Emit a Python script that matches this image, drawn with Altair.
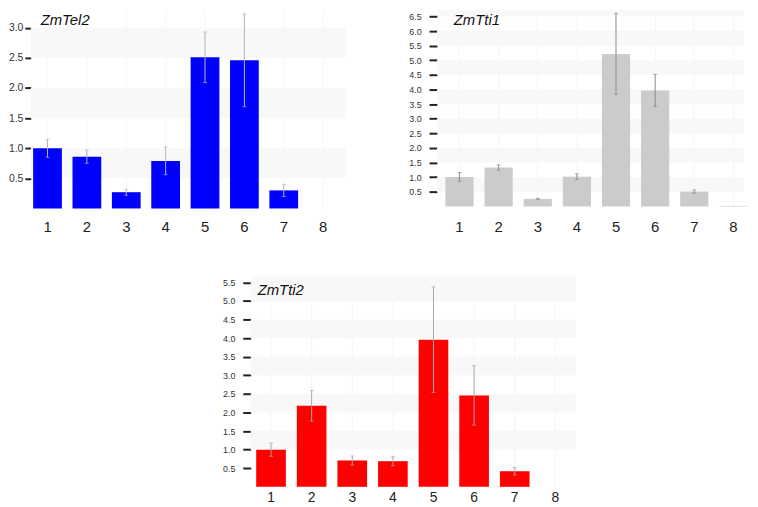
import altair as alt
import pandas as pd

categories = ["1", "2", "3", "4", "5", "6", "7", "8"]

tel2_values = [1.00, 0.86, 0.27, 0.79, 2.51, 2.46, 0.30, 0.0]
tel2_errors = [0.15, 0.11, 0.05, 0.23, 0.42, 0.77, 0.10, 0.0]

tti1_values = [1.01, 1.33, 0.26, 1.02, 5.22, 3.97, 0.51, 0.02]
tti1_errors = [0.15, 0.09, 0.02, 0.10, 1.38, 0.55, 0.06, 0.0]

tti2_values = [1.00, 2.18, 0.71, 0.69, 3.96, 2.46, 0.42, 0.0]
tti2_errors = [0.18, 0.41, 0.12, 0.12, 1.42, 0.80, 0.10, 0.0]

tel2_ticks = [0.5, 1.0, 1.5, 2.0, 2.5, 3.0]
tti1_ticks = [0.5, 1.0, 1.5, 2.0, 2.5, 3.0, 3.5, 4.0, 4.5, 5.0, 5.5, 6.0, 6.5]
tti2_ticks = [0.5, 1.0, 1.5, 2.0, 2.5, 3.0, 3.5, 4.0, 4.5, 5.0, 5.5]

tel2_band_lo = [0.5, 1.5, 2.5]
tel2_band_hi = [1.0, 2.0, 3.0]
tti1_band_lo = [0.5, 1.5, 2.5, 3.5, 4.5, 5.5, 6.5]
tti1_band_hi = [1.0, 2.0, 3.0, 4.0, 5.0, 6.0, 6.71]
tti2_band_lo = [1.0, 2.0, 3.0, 4.0, 5.0]
tti2_band_hi = [1.5, 2.5, 3.5, 4.5, 5.65]

FONT = "Liberation Sans"


def panel(title, values, errors, ticks, band_lo, band_hi, y_top, color, err_color,
          width, height, x_range, pad_inner, y_font, tick_size, label_pad,
          min_extent, x_label_pad, x_font, title_x, title_y):
    df = pd.DataFrame({
        "cat": categories,
        "val": values,
        "lo": [v - e for v, e in zip(values, errors)],
        "hi": [v + e for v, e in zip(values, errors)],
        "err": errors,
    })
    bands = pd.DataFrame({"y0": band_lo, "y1": band_hi})
    yscale = alt.Scale(domain=[0, y_top], nice=False, zero=True)
    xscale = alt.Scale(domain=categories, range=x_range,
                       paddingInner=pad_inner, paddingOuter=pad_inner / 2)
    yaxis = alt.Axis(values=ticks, format=".1f", grid=False, domain=False,
                     tickColor="#222", tickWidth=2, tickSize=tick_size,
                     labelPadding=label_pad, labelFontSize=y_font,
                     labelFont=FONT, labelColor="#333", title=None,
                     minExtent=min_extent, labelOverlap=False)
    xaxis = alt.Axis(labelAngle=0, ticks=False, domain=False, grid=True,
                     gridColor="#f4f4f4", gridWidth=1, bandPosition=0.5,
                     labelFontSize=x_font, labelFont=FONT, labelColor="#222",
                     labelPadding=x_label_pad, title=None, labelOverlap=False)

    X = alt.X("cat:N", scale=xscale, axis=xaxis, sort=categories)
    stripes = alt.Chart(bands).mark_rect(color="#f8f8f8").encode(
        x=alt.value(0), x2=alt.value(width),
        y=alt.Y("y0:Q", scale=yscale, axis=yaxis), y2="y1:Q")
    bars = alt.Chart(df).mark_bar(color=color).encode(
        x=X, y=alt.Y("val:Q", scale=yscale, axis=yaxis))
    edf = alt.Chart(df).transform_filter("datum.err > 0")
    rules = edf.mark_rule(color=err_color, strokeWidth=1).encode(
        x=X, y=alt.Y("lo:Q", scale=yscale, axis=yaxis), y2="hi:Q")
    cap_hi = edf.mark_tick(color=err_color, size=4, thickness=1).encode(
        x=X, y=alt.Y("hi:Q", scale=yscale, axis=yaxis))
    cap_lo = edf.mark_tick(color=err_color, size=4, thickness=1).encode(
        x=X, y=alt.Y("lo:Q", scale=yscale, axis=yaxis))
    label = alt.Chart(pd.DataFrame({"t": [title]})).mark_text(
        align="left", baseline="alphabetic", font=FONT, fontSize=15,
        fontStyle="italic", color="#111").encode(
        x=alt.value(title_x), y=alt.value(title_y), text="t:N")
    return alt.layer(stripes, bars, rules, cap_hi, cap_lo, label).properties(
        width=width, height=height)


p1 = panel("ZmTel2", tel2_values, tel2_errors, tel2_ticks, tel2_band_lo, tel2_band_hi,
           3.29, "#0000ff", "#b5b5b5", 318, 200, [-3, 315], 0.27, 10.5, 6, 2,
           0, 11, 15, 10, 14.7)
p2 = panel("ZmTti1", tti1_values, tti1_errors, tti1_ticks, tti1_band_lo, tti1_band_hi,
           6.71, "#cbcbcb", "#8c8c8c", 310, 198, [3, 319], 0.28, 9, 8, 8,
           32, 13, 15, 17, 14.7)
p3 = panel("ZmTti2", tti2_values, tti2_errors, tti2_ticks, tti2_band_lo, tti2_band_hi,
           5.65, "#ff0000", "#a8a8a8", 328, 212, [0, 328], 0.27, 9, 8, 8,
           32, 4, 14, 7, 18.3)

spacer = alt.Chart(pd.DataFrame({"a": [0]})).mark_point(opacity=0).encode(
    x=alt.value(0), y=alt.value(0)).properties(width=190, height=10)

top = alt.hconcat(p1, p2, spacing=60)
bottom = alt.hconcat(spacer, p3, spacing=0)
chart = alt.vconcat(top, bottom, spacing=40).properties(padding=0).configure_view(
    stroke=None)

chart.save("out.html", embed_options={"renderer": "svg", "actions": False})
